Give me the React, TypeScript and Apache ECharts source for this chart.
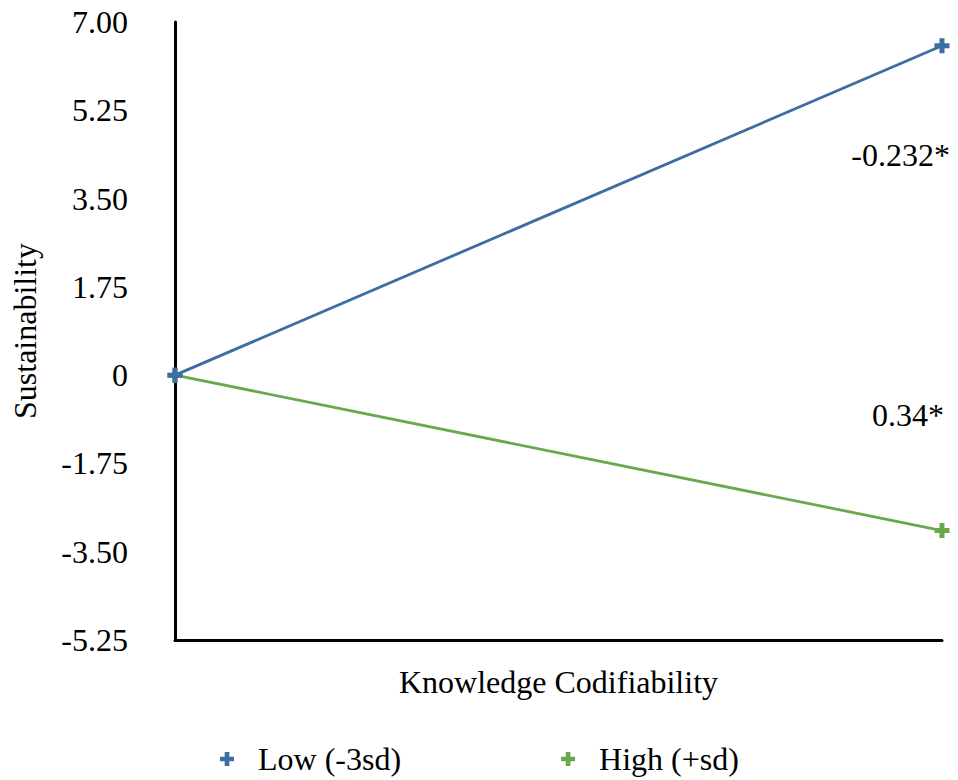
import React, { useEffect, useRef } from "react";
import * as echarts from "echarts";

const xPoints = [0, 1];
const lowValues = [0, 6.53];
const highValues = [0, -3.08];
const seriesNames = ["Low (-3sd)", "High (+sd)"];
const annotations = [
  { text: "-0.232*", x: 1, y: 4.37 },
  { text: "0.34*", x: 1, y: -0.79 },
];
const yMin = -5.25;
const yMax = 7;
const yInterval = 1.75;

const PLUS = "path://M4,0H8V4H12V8H8V12H4V8H0V4H4Z";
const FONT = "'Liberation Serif', 'Times New Roman', serif";
const BLUE = "#3d6da2";
const GREEN = "#6aa84f";
const FS = 32;

export default function App() {
  const ref = useRef<HTMLDivElement>(null);
  useEffect(() => {
    document.body.style.margin = "0";
    const chart = echarts.init(ref.current!, null, { renderer: "svg" });
    const mk = (name: string, vals: number[], color: string, ann: any, offX: number, z: number) => ({
      name,
      type: "line",
      z,
      data: xPoints.map((x, i) => [x, vals[i]]),
      symbol: PLUS,
      symbolSize: 15,
      showAllSymbol: true,
      lineStyle: { color, width: 2.8 },
      itemStyle: { color },
      markPoint: {
        symbol: "circle",
        symbolSize: 0,
        silent: true,
        data: [{ coord: [ann.x, ann.y], value: ann.text }],
        label: {
          show: true,
          formatter: ann.text,
          position: "inside",
          align: "right",
          verticalAlign: "middle",
          offset: [offX, 0],
          color: "#000",
          fontFamily: FONT,
          fontSize: FS,
        },
      },
    });
    chart.setOption({
      animation: false,
      grid: { left: 175, right: 16, top: 22, bottom: 140, outerBoundsMode: "none", containLabel: false },
      xAxis: {
        type: "value",
        min: 0,
        max: 1,
        name: "Knowledge Codifiability",
        nameLocation: "middle",
        nameGap: 26,
        nameTextStyle: { fontFamily: FONT, fontSize: FS, color: "#000" },
        axisLine: { show: true, onZero: false, lineStyle: { color: "#000", width: 3 } },
        axisTick: { show: false },
        axisLabel: { show: false },
        splitLine: { show: false },
      },
      yAxis: {
        type: "value",
        min: yMin,
        max: yMax,
        interval: yInterval,
        name: "Sustainability",
        nameLocation: "middle",
        nameGap: 134,
        nameTextStyle: { fontFamily: FONT, fontSize: FS, color: "#000" },
        axisLine: { show: true, lineStyle: { color: "#000", width: 3 } },
        axisTick: { show: false },
        splitLine: { show: false },
        axisLabel: {
          margin: 47,
          fontFamily: FONT,
          fontSize: FS,
          color: "#000",
          formatter: (v: number) => (Math.abs(v) < 1e-9 ? "0" : v.toFixed(2)),
        },
      },
      legend: {
        bottom: 0,
        left: 215,
        icon: PLUS,
        itemWidth: 14,
        itemHeight: 14,
        itemGap: 160,
        textStyle: { fontFamily: FONT, fontSize: FS, color: "#000", padding: [0, 0, 0, 19] },
        data: seriesNames,
      },
      series: [
        mk(seriesNames[0], lowValues, BLUE, annotations[0], 8, 3),
        mk(seriesNames[1], highValues, GREEN, annotations[1], 2, 2),
      ],
    });
    return () => chart.dispose();
  }, []);
  return <div ref={ref} style={{ width: 958, height: 780 }} />;
}
